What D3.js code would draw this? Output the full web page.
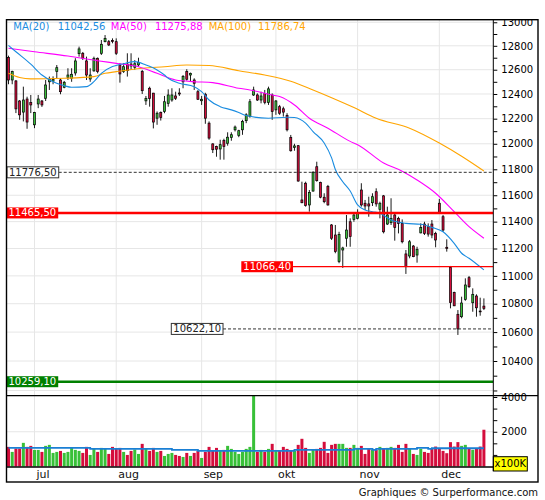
<!DOCTYPE html>
<html>
<head>
<meta charset="utf-8">
<script src="https://cdn.jsdelivr.net/npm/d3@7/dist/d3.min.js"></script>
<style>
body { margin: 0; background: #ffffff; }
svg { display: block; font-family: "DejaVu Sans", Verdana, sans-serif; }
</style>
</head>
<body>
<div id="chart"></div>
<script>
// daily candles, 21 jun -> 19 dec (index = trading day)
var opens = [12703,12515,12507,12343,12253,12359,12330,12151,12319,12343,
12365,12500,12505,12584,12515,12455,12537,12529,12573,12734,
12737,12673,12523,12590,12695,12737,12835,12835,12845,12835,
12639,12584,12647,12647,12620,12640,12584,12344,12447,12407,
12204,12249,12258,12324,12351,12384,12408,12500,12584,12556,
12515,12419,12345,12398,12164,11999,11978,11959,12026,12004,
12050,12111,12065,12111,12184,12217,12392,12392,12351,12405,
12332,12392,12271,12297,12280,12225,12051,11971,11985,11564,
11692,11526,11632,11820,11699,11585,11666,11375,11300,11104,
11189,11276,11399,11417,11425,11640,11539,11534,11543,11627,
11493,11595,11382,11392,11450,11425,11387,11160,11145,11218,
11152,11316,11382,11362,11382,11312,11539,11437,11209,11061,
10881,10725,10708,10831,10987,10807,10855,10748,10783]

var highs = [12717,12592,12515,12351,12460,12378,12392,12255,12392,12351,
12515,12543,12545,12639,12529,12507,12612,12612,12696,12793,
12748,12709,12612,12709,12702,12849,12891,12849,12863,12863,
12656,12656,12737,12737,12680,12700,12598,12384,12460,12409,
12258,12258,12384,12438,12447,12419,12447,12556,12604,12576,
12529,12433,12384,12410,12178,12004,11985,12032,12040,12091,
12091,12145,12111,12191,12244,12359,12460,12405,12419,12433,
12460,12405,12351,12311,12297,12244,12070,12000,11990,11704,
11704,11640,11786,11859,11704,11615,11679,11382,11375,11324,
11213,11450,11425,11463,11493,11692,11564,11589,11615,11653,
11551,11602,11513,11577,11463,11437,11417,11189,11263,11226,
11213,11387,11399,11387,11412,11324,11572,11450,11268,11072,
10886,10755,10850,10982,10999,10910,10867,10843,10838]

var lows = [12480,12480,12245,12191,12178,12119,12245,12124,12285,12295,
12343,12433,12480,12529,12398,12447,12515,12500,12551,12709,
12681,12515,12500,12584,12570,12723,12829,12798,12821,12723,
12493,12573,12543,12598,12600,12625,12400,12311,12297,12122,
12151,12185,12244,12297,12337,12351,12384,12447,12510,12500,
12433,12351,12311,12159,12032,11927,11898,11875,11875,11985,
12024,12098,12052,12071,12164,12208,12384,12343,12324,12316,
12311,12191,12231,12231,12217,12098,11938,11945,11704,11539,
11513,11475,11627,11704,11577,11539,11521,11263,11165,11092,
11058,11213,11213,11399,11417,11513,11488,11437,11518,11513,
11425,11312,11375,11375,11258,11312,11238,11014,11128,11136,
11096,11312,11300,11288,11276,11209,11463,11324,11177,10767,
10783,10580,10697,10821,10912,10743,10708,10715,10755]

var closes = [12515,12584,12279,12231,12351,12173,12311,12250,12359,12311,
12474,12521,12520,12617,12419,12496,12556,12562,12673,12774,
12695,12556,12556,12695,12584,12813,12863,12807,12836,12737,
12565,12625,12592,12631,12650,12660,12427,12363,12363,12173,
12244,12209,12337,12392,12392,12365,12400,12543,12521,12570,
12488,12357,12357,12204,12045,11953,11957,11993,11978,12052,
12072,12133,12104,12178,12231,12337,12433,12351,12384,12332,
12442,12258,12343,12244,12253,12111,11945,11983,11709,11543,
11521,11622,11776.5,11712,11585,11551,11526,11276,11177,11305,
11204,11337,11288,11450,11463,11526,11518,11518,11589,11534,
11539,11324,11450,11425,11357,11387,11250,11066.4,11250,11140,
11194,11357,11312,11307,11300,11263,11465.5,11337,11201,10808,
10785,10622.1,10805,10934,10922,10867,10771,10743,10767]

// volume in units of 100K
var volumes = [1129,840,1033,1033,1361,1129,1187,955,955,840,
1187,1245,782,840,897,782,840,1071,955,897,
782,1129,666,1013,840,1071,1013,724,1129,1013,
1071,840,666,897,975,724,1303,1013,897,1071,
840,897,608,724,782,666,608,550,782,608,
782,897,492,840,1129,897,1071,897,955,1187,
1013,840,724,840,1013,1129,4400,840,955,840,
1013,1303,897,897,1129,1013,897,897,1245,1594,
1071,782,955,1013,1071,1420,782,1245,1303,1303,
1303,1071,1071,1245,1071,1187,724,1013,955,955,
1129,1013,1071,1129,1071,1245,840,1303,1013,724,
666,1013,840,782,1053,1148,1053,899,765,1403,
1148,1403,1188,1246,1053,957,1053,1148,2116]

var volume_ma_days = [0, 22, 44, 51, 77, 93, 98, 99, 110, 113, 114, 128]
var volume_ma_values = [1071, 1013, 955, 897, 955, 1013, 955, 1013, 1071, 1013, 1050, 1050]

var ma20_days = [0,2,6,9,12,15,17,21,23,25,28,31,34,37,40,42,43,46,50,52,54,57,60,62,64,70,75,77,80,82,85,87,88,90,92,94,96,98,100,103,107,111,114,117,120,122,124,128]
var ma20_values = [12803,12750,12646,12556,12501,12468,12455,12460,12501,12570,12626,12650,12667,12639,12598,12556,12529,12488,12460,12419,12351,12297,12271,12249,12225,12204,12212,12209,12164,12097,12006,11889,11798,11704,11632,11526,11488,11475,11463,11412,11387,11380,11357,11324,11238,11165,11128,11043]

var ma50_days = [0,7,16,24,29,35,40,45,50,55,62,65,71,73,77,81,86,92,94,101,106,110,115,120,124,128]
var ma50_values = [12779,12750,12714,12675,12653,12625,12570,12515,12501,12493,12447,12433,12392,12379,12311,12204,12124,12019,11993,11849,11785,11717,11615,11475,11362,11276]

var ma100_days = [0,3,6,15,23,26,29,36,42,48,54,62,69,76,82,87,93,99,108,116,122,128]
var ma100_values = [12570,12535,12524,12529,12543,12570,12584,12612,12625,12639,12635,12592,12556,12505,12433,12370,12290,12204,12124,12006,11902,11787]

var legend_names = ["MA(20)", "MA(50)", "MA(100)"]
var legend_values = ["11042,56", "11275,88", "11786,74"]

var month_labels = ["jul", "aug", "sep", "okt", "nov", "dec"]
var month_first_day = [7, 29, 52, 72, 94, 116]

var price_ticks = [10200,10300,10400,10500,10600,10700,10800,10900,11000,11100,11200,11300,11400,11500,11600,11700,11800,11900,12000,12100,12200,12300,12400,12500,12600,12700,12800,12900,13000]
var price_labels = [10400,10600,10800,11000,11200,11400,11600,11800,12000,12200,12400,12600,12800,13000]
var price_grid = [10200,10400,10600,10800,11000,11200,11400,11600,11800,12000,12200,12400,12600,12800,13000]

var volume_ticks = [667, 1333, 2000, 2667, 3333, 4000]
var volume_labels = [2000, 4000]

var level_values = [11776.5, 11465.5, 11066.4, 10622.1, 10259.1]
var level_texts = ["11776,50", "11465,50", "11066,40", "10622,10", "10259,10"]


class Chart {

    constructor(div_id) {
        this.width = 545
        this.height = 500
        this.left = 6.5
        this.axis_x = 493.3
        this.right = 538
        this.top = 19.7
        this.price_bottom = 395.7
        this.volume_bottom = 467
        this.bottom = 482

        this.red = "#d40d3c"
        this.green = "#38c038"
        this.colors_ma = ["#1a8ce0", "#ff00ff", "#ffa500"]

        this.svg = d3.select("#" + div_id).append("svg")
            .attr("width", this.width)
            .attr("height", this.height)
    }

    render() {
        this.x = d3.scaleLinear().domain([0, closes.length - 1]).range([8.5, 483.9])
        this.y = d3.scaleLog().domain([10165, 13022]).range([this.price_bottom, this.top])
        this.vy = d3.scaleLinear().domain([0, 4000]).range([466.5, 397])

        this.add_clips()
        this.add_grid()
        this.add_volume()
        this.add_candles()
        this.add_moving_averages()
        this.add_levels()
        this.add_axes()
        this.add_frame()
        this.add_legend()
    }

    add_clips() {
        var defs = this.svg.append("defs")
        defs.append("clipPath").attr("id", "clip_price").append("rect")
            .attr("x", this.left).attr("y", this.top)
            .attr("width", this.axis_x - this.left).attr("height", this.price_bottom - this.top)
        defs.append("clipPath").attr("id", "clip_volume").append("rect")
            .attr("x", this.left).attr("y", this.price_bottom)
            .attr("width", this.axis_x - this.left).attr("height", this.volume_bottom - this.price_bottom)
        defs.append("clipPath").attr("id", "clip_axis").append("rect")
            .attr("x", this.axis_x).attr("y", this.top)
            .attr("width", this.right - this.axis_x).attr("height", this.bottom - this.top)
    }

    add_grid() {
        var g = this.svg.append("g").attr("stroke", "#e6e6e6").attr("stroke-width", 1)

        g.append("g").attr("clip-path", "url(#clip_price)")
            .selectAll("line").data(price_grid).join("line")
            .attr("x1", this.left).attr("x2", this.axis_x)
            .attr("y1", d => this.y(d)).attr("y2", d => this.y(d))

        g.append("line")
            .attr("x1", this.left).attr("x2", this.axis_x)
            .attr("y1", this.vy(2000)).attr("y2", this.vy(2000))

        g.selectAll(".vgrid").data(month_first_day).join("line")
            .attr("class", "vgrid")
            .attr("x1", d => this.x(d)).attr("x2", d => this.x(d))
            .attr("y1", this.top).attr("y2", this.volume_bottom)
    }

    add_volume() {
        var g = this.svg.append("g").attr("clip-path", "url(#clip_volume)")

        g.selectAll("rect").data(volumes).join("rect")
            .attr("x", (d, i) => this.x(i) - 1.5)
            .attr("width", 3)
            .attr("y", d => this.vy(d))
            .attr("height", d => this.vy(0) - this.vy(d))
            .attr("fill", (d, i) => closes[i] >= opens[i] ? this.green : this.red)

        var line = d3.line()
            .x(d => this.x(d[0]))
            .y(d => this.vy(d[1]))
            .curve(d3.curveStepAfter)

        g.append("path")
            .datum(d3.zip(volume_ma_days, volume_ma_values))
            .attr("d", line)
            .attr("fill", "none")
            .attr("stroke", "#1a7fd4")
            .attr("stroke-width", 1.8)
    }

    add_candles() {
        var g = this.svg.append("g").attr("clip-path", "url(#clip_price)")
        var days = d3.range(closes.length)

        g.selectAll("line").data(days).join("line")
            .attr("x1", i => this.x(i)).attr("x2", i => this.x(i))
            .attr("y1", i => this.y(highs[i])).attr("y2", i => this.y(lows[i]))
            .attr("stroke", "#000")
            .attr("stroke-width", 0.9)

        g.selectAll("rect").data(days).join("rect")
            .attr("x", i => this.x(i) - 1)
            .attr("width", 2)
            .attr("y", i => this.y(Math.max(opens[i], closes[i])))
            .attr("height", i => Math.max(0.8, this.y(Math.min(opens[i], closes[i])) - this.y(Math.max(opens[i], closes[i]))))
            .attr("fill", i => closes[i] >= opens[i] ? this.green : this.red)
            .attr("stroke", "#000")
            .attr("stroke-width", 0.7)
    }

    add_moving_averages() {
        var g = this.svg.append("g").attr("clip-path", "url(#clip_price)")
        var line = d3.line()
            .x(d => this.x(d[0]))
            .y(d => this.y(d[1]))
            .curve(d3.curveMonotoneX)

        var series = [
            d3.zip(ma100_days, ma100_values),
            d3.zip(ma50_days, ma50_values),
            d3.zip(ma20_days, ma20_values)
        ]
        var colors = [this.colors_ma[2], this.colors_ma[1], this.colors_ma[0]]

        series.forEach((s, k) => {
            g.append("path")
                .datum(s)
                .attr("d", line)
                .attr("fill", "none")
                .attr("stroke", colors[k])
                .attr("stroke-width", 1.1)
        })
    }

    add_levels() {
        // style per level: line kind, where the label box starts, box fill, text colour
        var styles = [
            {dash: true,  width: 1,   stroke: "#333",    box_x: 7,     fill: "#fff",    text: "#222", full: false},
            {dash: false, width: 2.6, stroke: "#ff0000", box_x: 6.5,   fill: "#ff0000", text: "#fff", full: true},
            {dash: false, width: 1.3, stroke: "#ff0000", box_x: 241.3, fill: "#ff0000", text: "#fff", full: false},
            {dash: true,  width: 1,   stroke: "#333",    box_x: 171.3, fill: "#fff",    text: "#222", full: false},
            {dash: false, width: 2.6, stroke: "#008000", box_x: 6.5,   fill: "#008000", text: "#fff", full: true}
        ]

        var g = this.svg.append("g").attr("clip-path", "url(#clip_price)")

        level_values.forEach((v, k) => {
            var st = styles[k]
            var yy = this.y(v)
            var item = g.append("g")

            var label = item.append("text")
                .attr("x", st.box_x + 2)
                .attr("y", yy)
                .attr("dy", "0.35em")
                .style("font-size", "10px")
                .attr("fill", st.text)
                .text(level_texts[k])

            var w = label.node().getComputedTextLength() + 4

            item.insert("line", "text")
                .attr("x1", st.full ? this.left : st.box_x + w)
                .attr("x2", this.axis_x)
                .attr("y1", yy).attr("y2", yy)
                .attr("stroke", st.stroke)
                .attr("stroke-width", st.width)
                .attr("stroke-dasharray", st.dash ? "3,2" : null)

            item.insert("rect", "text")
                .attr("x", st.box_x)
                .attr("y", yy - 5.5)
                .attr("width", w)
                .attr("height", 11)
                .attr("fill", st.fill)
                .attr("stroke", st.fill == "#fff" ? "#333" : "none")
                .attr("stroke-width", 1)
        })
    }

    add_axes() {
        var price_axis = d3.axisRight(this.y)
            .tickValues(price_ticks)
            .tickSize(4)
            .tickPadding(4)
            .tickFormat(d => price_labels.includes(d) ? d : "")

        var gp = this.svg.append("g")
            .attr("clip-path", "url(#clip_axis)")
            .append("g")
            .attr("transform", "translate(" + this.axis_x + ",0)")
            .call(price_axis)

        var volume_axis = d3.axisRight(this.vy)
            .tickValues(volume_ticks)
            .tickSize(4)
            .tickPadding(4)
            .tickFormat(d => volume_labels.includes(d) ? d : "")

        var gv = this.svg.append("g")
            .attr("transform", "translate(" + this.axis_x + ",0)")
            .call(volume_axis)

        for (const g of [gp, gv]) {
            g.select(".domain").remove()
            g.attr("font-family", null).attr("font-size", null)
            g.selectAll("text").style("font-size", "10px").attr("fill", "#000")
            g.selectAll("line").attr("stroke", "#000")
        }

        // volume unit tag
        var tag = this.svg.append("g")
        tag.append("rect")
            .attr("x", this.axis_x).attr("y", 456.7)
            .attr("width", 34).attr("height", 14.3)
            .attr("fill", "#ffff00")
            .attr("stroke", "#000")
            .attr("stroke-width", 1)
        tag.append("text")
            .attr("x", this.axis_x + 17).attr("y", 463.9)
            .attr("dy", "0.35em")
            .attr("text-anchor", "middle")
            .style("font-size", "10px")
            .text("x100K")

        this.svg.append("g").selectAll("text").data(month_labels).join("text")
            .attr("x", (d, i) => this.x(month_first_day[i]) + 2)
            .attr("y", 478)
            .style("font-size", "11px")
            .attr("fill", "#111")
            .text(d => d)

        this.svg.append("text")
            .attr("x", this.right)
            .attr("y", 495.5)
            .attr("text-anchor", "end")
            .style("font-size", "10px")
            .attr("fill", "#111")
            .text("Graphiques © Surperformance.com")
    }

    add_frame() {
        var g = this.svg.append("g").attr("stroke", "#000").attr("fill", "none")

        g.append("rect")
            .attr("x", this.left).attr("y", this.top)
            .attr("width", this.right - this.left).attr("height", this.bottom - this.top)
            .attr("stroke-width", 1.4)

        g.append("line")
            .attr("x1", this.left).attr("x2", this.right)
            .attr("y1", this.price_bottom).attr("y2", this.price_bottom)
            .attr("stroke-width", 1.3)

        g.append("line")
            .attr("x1", this.left).attr("x2", this.axis_x)
            .attr("y1", this.volume_bottom).attr("y2", this.volume_bottom)
            .attr("stroke-width", 1.3)

        g.append("line")
            .attr("x1", this.axis_x).attr("x2", this.axis_x)
            .attr("y1", this.top).attr("y2", 471)
            .attr("stroke-width", 1)
    }

    add_legend() {
        var xs = [13.3, 57.7, 110.8, 154.9, 208.7, 258]
        var g = this.svg.append("g").style("font-size", "10px")

        legend_names.forEach((name, k) => {
            g.append("text")
                .attr("x", xs[k * 2]).attr("y", 30.4)
                .attr("fill", this.colors_ma[k])
                .text(name)
            g.append("text")
                .attr("x", xs[k * 2 + 1]).attr("y", 30.4)
                .attr("fill", this.colors_ma[k])
                .text(legend_values[k])
        })
    }
}

var chart = new Chart("chart")
chart.render()
</script>
</body>
</html>
